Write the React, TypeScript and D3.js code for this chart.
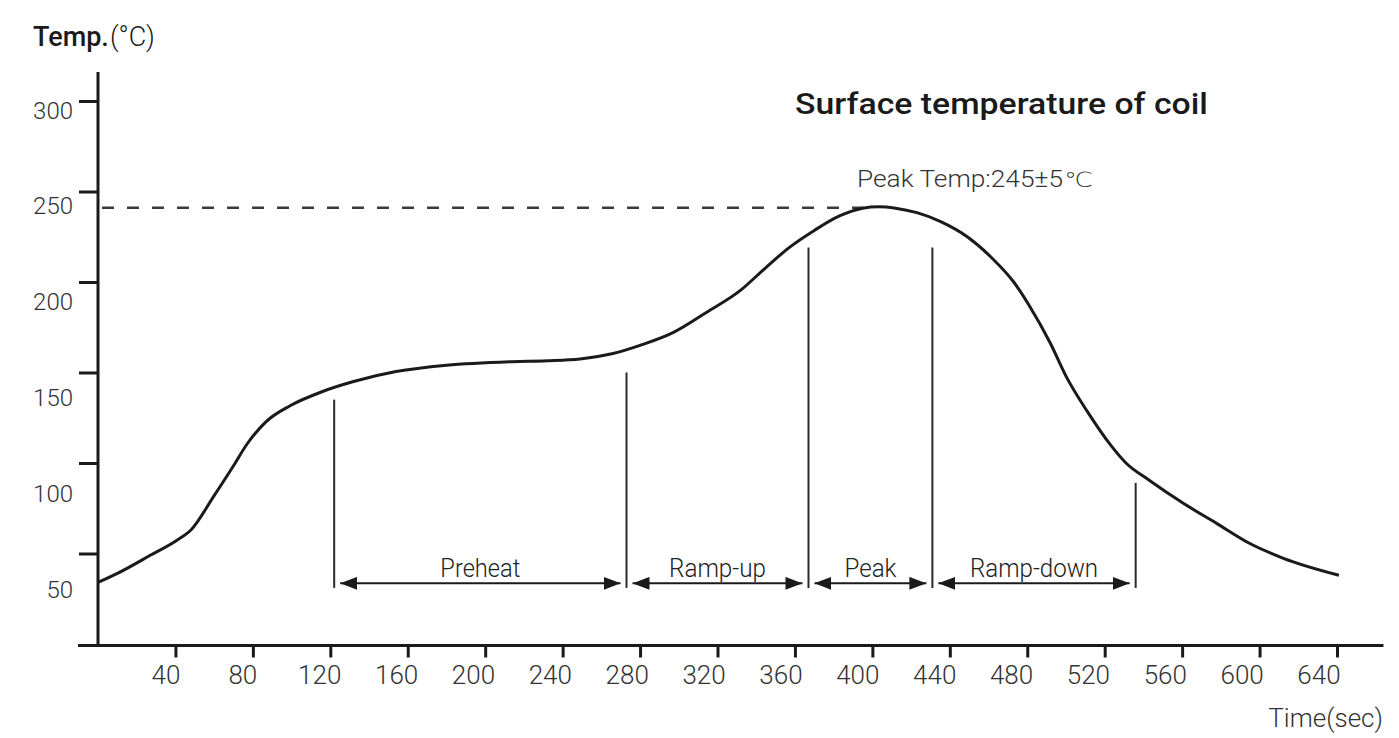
import React, { useEffect, useRef } from "react";
import * as d3 from "d3";

// reflow profile
const timeSec = [0, 10, 27, 41, 48, 60, 70, 77, 87, 99, 116, 132, 154, 180, 214, 232, 249, 266, 280, 297, 314, 332, 345, 357, 370, 383, 395, 403, 412, 423, 435, 449, 462, 473, 481, 492, 500, 511, 523, 531, 543, 561, 578, 595, 612, 641];
const tempC = [34, 39, 49, 57.5, 63, 82, 98.5, 110.5, 123, 131.5, 139.5, 145, 150.5, 154, 156, 156.5, 157.5, 160.5, 165, 172, 183, 195.5, 208, 219, 228.5, 236.5, 240.8, 241.6, 240.8, 238.3, 233.5, 225, 213, 200, 187, 166, 148, 128.5, 110, 100, 90.5, 77.5, 66.5, 55.5, 47.5, 38];

const xTicks = [40, 80, 120, 160, 200, 240, 280, 320, 360, 400, 440, 480, 520, 560, 600, 640];
const yTicks = [50, 100, 150, 200, 250, 300];

// phase boundaries (sec) and how high each boundary line reaches (°C)
const phaseNames = ["Preheat", "Ramp-up", "Peak", "Ramp-down"];
const phaseBounds = [122, 273, 367, 431, 536];
const boundTops = [135, 150, 219, 219, 89];
const boundBottom = 31;
const arrowLevel = 33.5;

const peakLine = 241;
const peakLineEnd = 397;
const peakLabel = "Peak Temp:245\u00b15";
const title = "Surface temperature of coil";

const App: React.FC = () => {
  const svgRef = useRef<SVGSVGElement | null>(null);

  useEffect(() => {
    if (!svgRef.current) return;
    const width = 1399;
    const height = 738;
    const font = "Roboto, 'Liberation Sans', Arial, sans-serif";
    const ink = "#1a1a1a";

    d3.select(svgRef.current).selectAll("*").remove();
    const svg = d3
      .select(svgRef.current)
      .attr("width", width)
      .attr("height", height)
      .style("font-family", font);

    svg.append("rect").attr("width", width).attr("height", height).attr("fill", "#fff");

    const x = d3.scaleLinear().domain([0, 640]).range([98, 1337]);
    const y = d3.scaleLinear().domain([0, 300]).range([644, 101]);
    // the printed labels drift away from their ticks in the original
    const xLabel = d3.scaleLinear().domain([40, 640]).range([166, 1319]);
    const yLabel = d3.scaleLinear().domain([50, 300]).range([589, 110]);

    // arrow heads
    const defs = svg.append("defs");
    ["start", "end"].forEach((k) => {
      defs
        .append("marker")
        .attr("id", "arrow-" + k)
        .attr("markerUnits", "userSpaceOnUse")
        .attr("viewBox", "0 0 17 13")
        .attr("markerWidth", 17)
        .attr("markerHeight", 13)
        .attr("refX", k === "end" ? 17 : 0)
        .attr("refY", 6.5)
        .attr("orient", "auto")
        .append("path")
        .attr("d", k === "end" ? "M0,0L17,6.5L0,13Z" : "M17,0L0,6.5L17,13Z")
        .attr("fill", ink);
    });

    // dashed peak line
    svg
      .append("line")
      .attr("x1", x(0) + 4)
      .attr("x2", x(peakLineEnd))
      .attr("y1", y(peakLine))
      .attr("y2", y(peakLine))
      .attr("stroke", "#3a3a3a")
      .attr("stroke-width", 2.5)
      .attr("stroke-dasharray", "12,13");

    // temperature curve
    const pts = timeSec.map((t, i) => [t, tempC[i]] as [number, number]);
    const line = d3
      .line<[number, number]>()
      .x((d) => x(d[0]))
      .y((d) => y(d[1]))
      .curve(d3.curveMonotoneX);
    svg
      .append("path")
      .datum(pts)
      .attr("d", line)
      .attr("fill", "none")
      .attr("stroke", ink)
      .attr("stroke-width", 3);

    // phase boundary lines
    phaseBounds.forEach((b, i) => {
      svg
        .append("line")
        .attr("x1", x(b))
        .attr("x2", x(b))
        .attr("y1", y(boundTops[i]))
        .attr("y2", y(boundBottom))
        .attr("stroke", "#2a2a2a")
        .attr("stroke-width", 2);
    });

    // phase arrows + labels
    const labelLen = [80, 97, 52, 128];
    phaseNames.forEach((name, i) => {
      const a = x(phaseBounds[i]) + 6;
      const b = x(phaseBounds[i + 1]) - 6;
      svg
        .append("line")
        .attr("x1", a)
        .attr("x2", b)
        .attr("y1", y(arrowLevel))
        .attr("y2", y(arrowLevel))
        .attr("stroke", ink)
        .attr("stroke-width", 2)
        .attr("marker-start", "url(#arrow-start)")
        .attr("marker-end", "url(#arrow-end)");
      svg
        .append("text")
        .attr("x", (a + b) / 2 - labelLen[i] / 2)
        .attr("y", y(arrowLevel) - 6)
        .attr("textLength", labelLen[i])
        .attr("lengthAdjust", "spacingAndGlyphs")
        .attr("font-size", 25)
        .attr("font-weight", 300)
        .attr("fill", "#222")
        .text(name);
    });

    // y axis
    const yAxis = d3
      .axisLeft(y)
      .tickValues(yTicks)
      .tickSize(19)
      .tickFormat(() => "");
    const gy = svg.append("g").attr("transform", `translate(${x(0)},0)`).call(yAxis);
    gy.select(".domain").remove();
    gy.selectAll(".tick line").attr("stroke", ink).attr("stroke-width", 3);
    svg
      .append("line")
      .attr("x1", x(0))
      .attr("x2", x(0))
      .attr("y1", y(316))
      .attr("y2", y(0) + 3)
      .attr("stroke", ink)
      .attr("stroke-width", 3);
    svg
      .selectAll(".ylab")
      .data(yTicks)
      .enter()
      .append("text")
      .attr("x", 73)
      .attr("y", (d) => yLabel(d))
      .attr("dy", "0.36em")
      .attr("text-anchor", "end")
      .attr("font-size", 24)
      .attr("font-weight", 300)
      .attr("fill", "#333")
      .text((d) => String(d));

    // x axis
    const xAxis = d3
      .axisBottom(x)
      .tickValues(xTicks)
      .tickSize(12)
      .tickFormat(() => "");
    const gx = svg.append("g").attr("transform", `translate(0,${y(0) + 1.5})`).call(xAxis);
    gx.select(".domain").remove();
    gx.selectAll(".tick line").attr("stroke", ink).attr("stroke-width", 3);
    svg
      .append("line")
      .attr("x1", x(0) - 20)
      .attr("x2", x(664))
      .attr("y1", y(0) + 1.5)
      .attr("y2", y(0) + 1.5)
      .attr("stroke", ink)
      .attr("stroke-width", 3);
    svg
      .selectAll(".xlab")
      .data(xTicks)
      .enter()
      .append("text")
      .attr("x", (d) => xLabel(d))
      .attr("y", 684)
      .attr("text-anchor", "middle")
      .attr("font-size", 26)
      .attr("font-weight", 300)
      .attr("fill", "#333")
      .text((d) => String(d));

    // axis titles
    const yt = svg.append("text").attr("x", 33).attr("y", 46).attr("fill", "#1a1a1a");
    yt.append("tspan").attr("font-size", 27).attr("font-weight", 500).text("Temp.");
    yt.append("tspan").attr("x", 110).attr("font-size", 27).attr("font-weight", 300).text("(\u00b0C)");

    svg
      .append("text")
      .attr("x", 1383)
      .attr("y", 727)
      .attr("text-anchor", "end")
      .attr("font-size", 26)
      .attr("font-weight", 300)
      .attr("fill", "#333")
      .text("Time(sec)");

    // title and peak annotation
    svg
      .append("text")
      .attr("x", 795)
      .attr("y", 114)
      .attr("textLength", 413)
      .attr("lengthAdjust", "spacingAndGlyphs")
      .attr("font-size", 29)
      .attr("font-weight", 500)
      .attr("fill", "#1a1a1a")
      .text(title);

    const pk = svg
      .append("text")
      .attr("x", 857)
      .attr("y", 187)
      .attr("font-size", 23)
      .attr("font-weight", 300)
      .attr("fill", "#333");
    pk.append("tspan").attr("textLength", 206).attr("lengthAdjust", "spacingAndGlyphs").text(peakLabel);
    pk.append("tspan")
      .attr("x", 1064)
      .style("font-family", "'DejaVu Sans', sans-serif")
      .attr("font-size", 21)
      .attr("font-weight", 200)
      .attr("textLength", 29)
      .attr("lengthAdjust", "spacingAndGlyphs")
      .text("\u2103");
  }, []);

  return (
    <div style={{ position: "absolute", left: 0, top: 0, width: 1399, height: 738, overflow: "hidden" }}>
      <svg ref={svgRef} style={{ display: "block" }}></svg>
    </div>
  );
};

export default App;
